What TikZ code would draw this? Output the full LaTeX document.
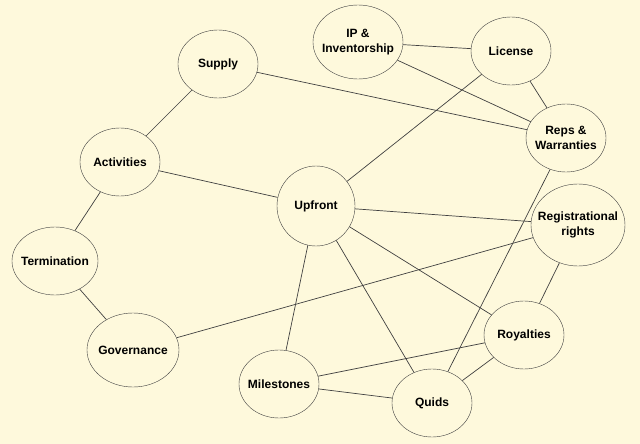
\documentclass[tikz,border=0pt]{standalone}
\usepackage{fontspec}
\setmainfont{Liberation Sans}
\usetikzlibrary{shapes.geometric}
\definecolor{paper}{RGB}{254,249,220}
\colorlet{edgecol}{black!75}
\tikzstyle{topic}=[ellipse,draw=edgecol,fill=paper,align=center,
  inner xsep=-16pt,inner ysep=-8pt,
  font=\bfseries\fontsize{12}{15}\selectfont,minimum width=80pt,minimum height=68pt]
\tikzstyle{link}=[draw=edgecol,line width=0.7pt]

\begin{document}
\begin{tikzpicture}[x=1pt,y=-1pt]
  % page
  \fill[paper] (0,0) rectangle (640,444);
  \useasboundingbox (0,0) rectangle (640,444);
  % Topics
  \node[topic] (supply) at (218,64) {Supply};
  \node[topic] (activities) at (120,162) {Activities};
  \node[topic,minimum width=86pt] (termination) at (55,261) {Termination};
  \node[topic,minimum width=92pt,minimum height=74pt] (governance) at (133,350) {Governance};
  \node[topic,minimum width=78pt,minimum height=80pt] (upfront) at (316,206) {Upfront};
  \node[topic,minimum width=90pt,minimum height=74pt] (ip) at (358,42) {IP \&\\Inventorship};
  \node[topic] (license) at (511,51) {License};
  \node[topic] (reps) at (566,138) {Reps \&\\Warranties};
  \node[topic,minimum width=94pt,minimum height=82pt] (regrights) at (578,225) {Registrational\\rights};
  \node[topic] (royalties) at (524,335) {Royalties};
  \node[topic] (milestones) at (279,384) {Milestones};
  \node[topic] (quids) at (432,403) {Quids};
  % Links
  \draw[link] (supply) -- (activities);
  \draw[link] (supply) -- (reps);
  \draw[link] (activities) -- (upfront);
  \draw[link] (activities) -- (termination);
  \draw[link] (termination) -- (governance);
  \draw[link] (governance) -- (regrights);
  \draw[link] (ip) -- (license);
  \draw[link] (ip) -- (reps);
  \draw[link] (license) -- (reps);
  \draw[link] (license) -- (upfront);
  \draw[link] (upfront) -- (regrights);
  \draw[link] (upfront) -- (royalties);
  \draw[link] (upfront) -- (quids);
  \draw[link] (upfront) -- (milestones);
  \draw[link] (reps) -- (quids);
  \draw[link] (regrights) -- (royalties);
  \draw[link] (royalties) -- (milestones);
  \draw[link] (royalties) -- (quids);
  \draw[link] (milestones) -- (quids);
\end{tikzpicture}
\end{document}
